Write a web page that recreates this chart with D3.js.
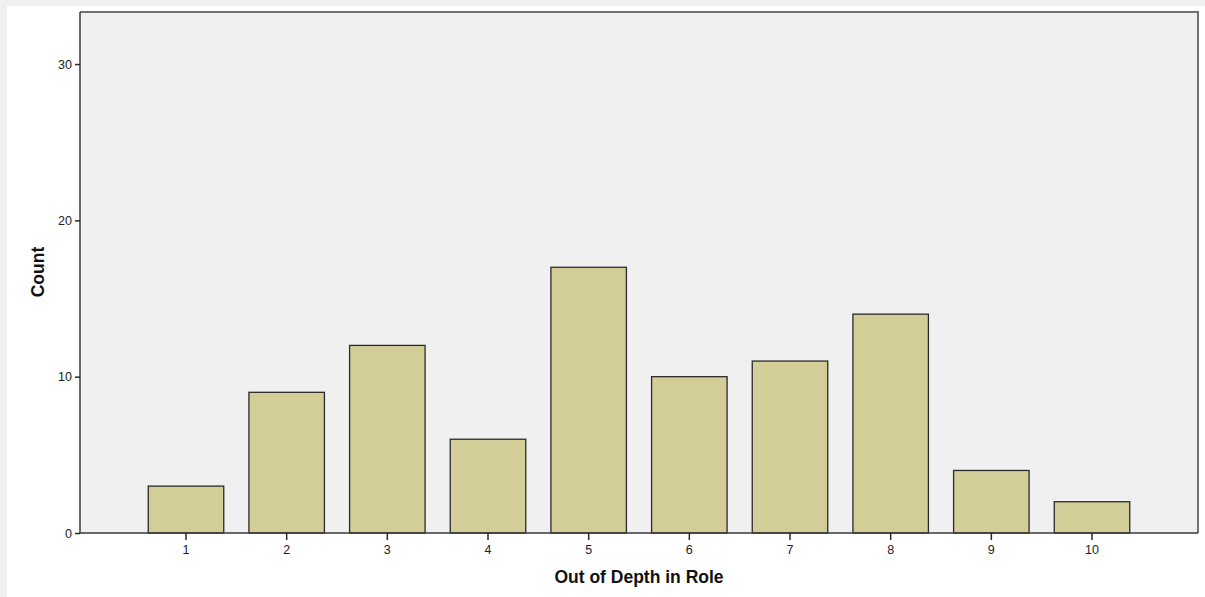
<!DOCTYPE html>
<html>
<head>
<meta charset="utf-8">
<script src="https://cdn.jsdelivr.net/npm/d3@7"></script>
<style>
  html, body { margin: 0; padding: 0; background: #f0f0f0; }
  svg { display: block; }
  text { font-family: "Liberation Sans", Arial, sans-serif; }
</style>
</head>
<body>
<svg id="chart" width="1205" height="597"></svg>
<script>
// Frequency of "Out of Depth in Role" ratings
const categories = ["1", "2", "3", "4", "5", "6", "7", "8", "9", "10"];
const counts = [3, 9, 12, 6, 17, 10, 11, 14, 4, 2];
const yTicks = [0, 10, 20, 30];

const W = 1205, H = 597;
const plot = { left: 80, top: 12, right: 1198, bottom: 533 };

const svg = d3.select("#chart");

// white panel behind the chart
svg.append("rect")
  .attr("x", 7).attr("y", 6)
  .attr("width", W - 7).attr("height", H - 6)
  .attr("fill", "#ffffff");

// plot background
svg.append("rect")
  .attr("x", plot.left).attr("y", plot.top)
  .attr("width", plot.right - plot.left)
  .attr("height", plot.bottom - plot.top)
  .attr("fill", "#f0f0f0");

const x = d3.scaleBand()
  .domain(categories)
  .range([plot.left, plot.right])
  .paddingInner(0.25)
  .paddingOuter(0.678);

const y = d3.scaleLinear()
  .domain([0, 33.33])
  .range([plot.bottom, plot.top]);

// bars
svg.append("g")
  .selectAll("rect")
  .data(counts)
  .join("rect")
  .attr("x", (d, i) => x(categories[i]))
  .attr("y", d => y(d))
  .attr("width", x.bandwidth())
  .attr("height", d => y(0) - y(d))
  .attr("fill", "#d3ce98")
  .attr("stroke", "#2a2a2a")
  .attr("stroke-width", 1.3);

// top and right frame lines
svg.append("path")
  .attr("d", `M${plot.left},${plot.top}H${plot.right}V${plot.bottom}`)
  .attr("fill", "none")
  .attr("stroke", "#727272")
  .attr("stroke-width", 2);

const tickFont = 12.5;

// y axis
const yAxis = svg.append("g")
  .attr("transform", `translate(${plot.left},0)`)
  .call(d3.axisLeft(y).tickValues(yTicks).tickSize(5).tickPadding(3).tickFormat(d3.format("d")));
yAxis.select(".domain")
  .attr("d", `M0,${plot.top}V${plot.bottom}`)
  .attr("stroke", "#3a3a3a").attr("stroke-width", 1.5);
yAxis.selectAll(".tick line").attr("stroke", "#2a2a2a").attr("stroke-width", 1.5);
yAxis.selectAll(".tick text").attr("font-size", tickFont).attr("fill", "#222")
  .attr("font-family", "Liberation Sans, Arial, sans-serif");

// x axis
const xAxis = svg.append("g")
  .attr("transform", `translate(0,${plot.bottom})`)
  .call(d3.axisBottom(x).tickSize(7).tickPadding(5));
xAxis.select(".domain")
  .attr("d", `M${plot.left},0H${plot.right}`)
  .attr("stroke", "#3a3a3a").attr("stroke-width", 1.5);
xAxis.selectAll(".tick line").attr("stroke", "#2a2a2a").attr("stroke-width", 1.5);
xAxis.selectAll(".tick text").attr("font-size", tickFont).attr("fill", "#222")
  .attr("font-family", "Liberation Sans, Arial, sans-serif");

// axis titles
svg.append("text")
  .attr("x", 639)
  .attr("y", 583)
  .attr("text-anchor", "middle")
  .attr("font-size", 17.5)
  .attr("font-weight", "bold")
  .attr("fill", "#111")
  .text("Out of Depth in Role");

svg.append("text")
  .attr("transform", `translate(44,272) rotate(-90)`)
  .attr("text-anchor", "middle")
  .attr("font-size", 17.5)
  .attr("font-weight", "bold")
  .attr("fill", "#111")
  .text("Count");
</script>
</body>
</html>
